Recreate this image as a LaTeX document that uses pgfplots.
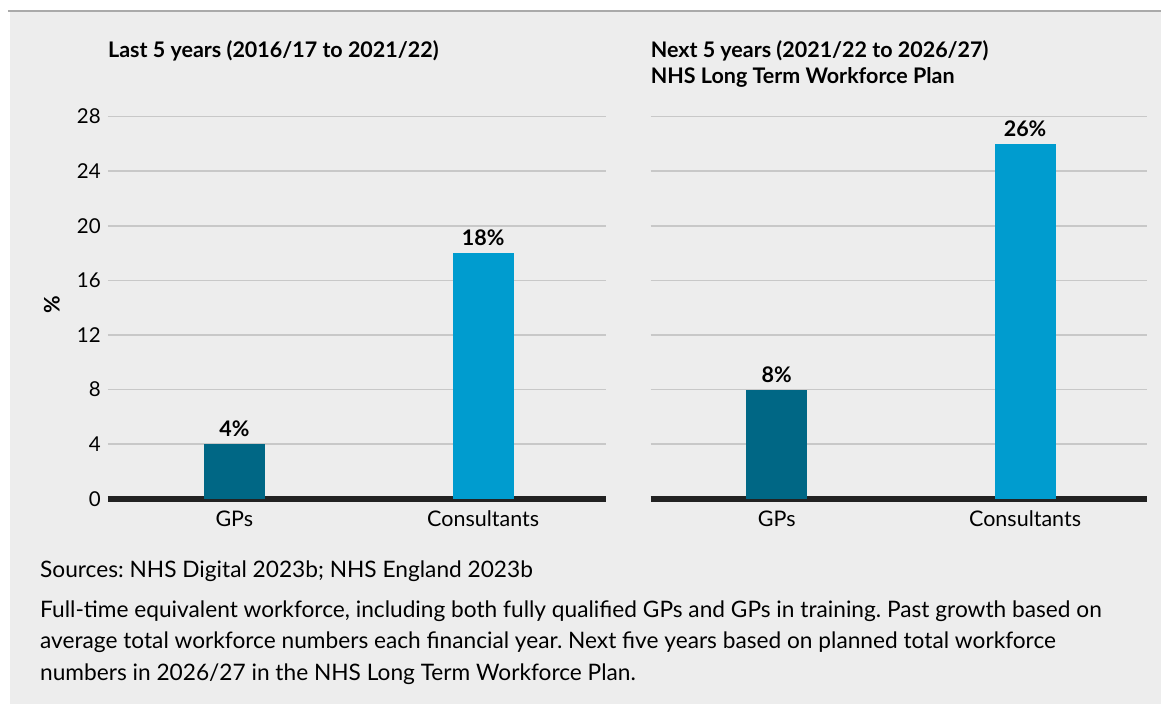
\documentclass[border=0pt]{standalone}
\usepackage{pgfplots}
\pgfplotsset{compat=1.18}
\usepackage{fontspec}
\setmainfont{Lato}
\frenchspacing
\definecolor{bg}{HTML}{EDEDED}
\definecolor{gpcol}{HTML}{006785}
\definecolor{cocol}{HTML}{009CCF}
\definecolor{gridcol}{HTML}{C8C8C8}
\definecolor{axcol}{HTML}{222222}
\definecolor{topline}{HTML}{AAAAAA}
\newcommand{\fs}{\fontsize{22.7}{27}\selectfont}
\newcommand{\fx}{\fontsize{21.5}{26}\selectfont}
\newcommand{\fb}{\bfseries\fontsize{21.5}{26}\selectfont}
\newcommand{\fy}{\fontsize{20.5}{24}\selectfont}
\pgfplotsset{
  panel/.style={
    scale only axis, height=382.3pt, ymin=0, ymax=28,
    xmin=-0.508, xmax=1.492, xtick={0,1}, xticklabels={GPs,Consultants},
    ytick={0,4,...,28},
    ymajorgrids, grid style={gridcol, line width=1.5pt},
    axis x line=bottom, axis y line=left,
    y axis line style={draw=none},
    x axis line style={-, line width=6pt, axcol},
    tick style={draw=none}, major tick length=0pt,
    ybar, bar width=61pt,
    /pgf/number format/assume math mode=true,
    xticklabel shift=0pt, yticklabel shift=0pt,
    xticklabel style={font=\fx, anchor=base, yshift=-27.5pt, inner sep=0pt},
    yticklabel style={font=\fy, anchor=east, inner sep=0pt, xshift=-7pt},
    nodes near coords={\pgfmathprintnumber{\pgfplotspointmeta}\%},
    every node near coord/.append style={font=\fb, anchor=base, inner sep=0pt, yshift=7.5pt, text=black},
    clip=false,
  }
}
\begin{document}
\begin{tikzpicture}
\fill[white] (0,0) rectangle (1162pt,704pt);
\fill[bg] (10pt,0) rectangle (1162pt,693pt);
\draw[topline, line width=1.5pt] (8pt,693pt) -- (1162pt,693pt);

\begin{axis}[panel, at={(108pt,205pt)}, anchor=south west, width=498pt,
  ylabel={\%},
  every axis y label/.style={at={(axis description cs:-0.1125,0.508)}, rotate=90, anchor=center, font=\fb}]
\addplot[fill=gpcol, draw=none, bar shift=0pt] coordinates {(0,4)};
\addplot[fill=cocol, draw=none, bar shift=0pt] coordinates {(1,18)};
\end{axis}

\begin{axis}[panel, at={(651pt,205pt)}, anchor=south west, width=497pt,
  yticklabels={}]
\addplot[fill=gpcol, draw=none, bar shift=0pt] coordinates {(0,8)};
\addplot[fill=cocol, draw=none, bar shift=0pt] coordinates {(1,26)};
\end{axis}

\node[anchor=base west, inner sep=0pt, font=\fb] at (108pt,646pt) {Last 5 years (2016/17 to 2021/22)};
\node[anchor=base west, inner sep=0pt, font=\fb] at (651pt,646pt) {Next 5 years (2021/22 to 2026/27)};
\node[anchor=base west, inner sep=0pt, font=\fb] at (651pt,620.5pt) {NHS Long Term Workforce Plan};

\node[anchor=base west, inner sep=0pt, font=\fs] at (40pt,126.3pt) {Sources: NHS Digital 2023b; NHS England 2023b};
\node[anchor=base west, inner sep=0pt, font=\fs] at (40pt,86.3pt) {Full-time equivalent workforce, including both fully qualified GPs and GPs in training. Past growth based on};
\node[anchor=base west, inner sep=0pt, font=\fs] at (40pt,55pt) {average total workforce numbers each financial year. Next five years based on planned total workforce};
\node[anchor=base west, inner sep=0pt, font=\fs] at (40pt,23.3pt) {numbers in 2026/27 in the NHS Long Term Workforce Plan.};
\end{tikzpicture}
\end{document}
